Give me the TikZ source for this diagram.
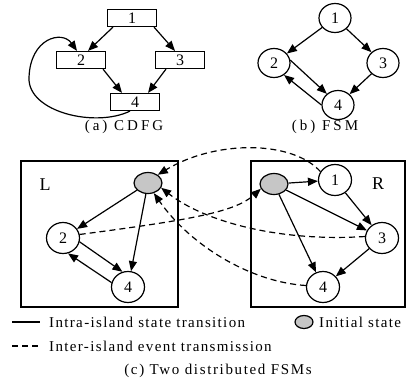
\documentclass[tikz,border=0pt]{standalone}
\usepackage{fontspec}
\setmainfont{Liberation Serif}
\newfontfamily\spacedfont[LetterSpace=9]{Liberation Serif}
\newfontfamily\capfont[LetterSpace=11]{Liberation Serif}
\newfontfamily\widefont[LetterSpace=20]{Liberation Serif}
\usetikzlibrary{arrows.meta,shapes.geometric}

\begin{document}
\begin{tikzpicture}[x=1pt,y=-1pt,
  lw/.style={line width=1.2pt},
  edge/.style={lw, -{Triangle[length=10pt,width=8pt]}},
  dedge/.style={edge, dash pattern=on 6pt off 4pt},
  blk/.style={draw, lw, rectangle, minimum width=49pt, minimum height=17pt,
              inner sep=0pt, font=\fontsize{16}{16}\selectfont},
  st/.style={draw, lw, ellipse, minimum width=32pt, minimum height=29pt,
             inner sep=0pt, font=\fontsize{16}{16}\selectfont},
  init/.style={draw, lw, ellipse, fill=gray!45, minimum width=28pt,
               minimum height=21pt, inner sep=0pt},
  island/.style={draw, lw},
  captxt/.style={font=\fontsize{15}{15}\selectfont\widefont},
  legtext/.style={font=\fontsize{15}{15}\selectfont\spacedfont, anchor=west, inner sep=0pt}]
\useasboundingbox (0,0) rectangle (409,388);

% ---------- (a) CDFG ----------
\node[blk] (a1) at (132,18) {1};
\node[blk] (a2) at (81,60) {2};
\node[blk] (a3) at (180,60) {3};
\node[blk] (a4) at (135,102) {4};
\draw[edge] ([xshift=-19pt]a1.south) -- ([xshift=7pt]a2.north);
\draw[edge] ([xshift=22pt]a1.south) -- ([xshift=-5pt]a3.north);
\draw[edge] ([xshift=22pt]a2.south) -- ([xshift=-13pt]a4.north);
\draw[edge] ([xshift=-14pt]a3.south) -- ([xshift=13pt]a4.north);
\draw[edge] ([xshift=-5pt]a4.south) .. controls (95,128) and (28,112) .. (29,78)
  .. controls (30,38) and (62,30) .. ([xshift=-4pt]a2.north);
\node[captxt] (capa) at (124,127) {(a) CDFG};

% ---------- (b) FSM ----------
\node[st] (b1) at (335,18) {1};
\node[st] (b2) at (274,63) {2};
\node[st] (b3) at (383,63) {3};
\node[st] (b4) at (338,105) {4};
\draw[edge] (b1) -- (b2);
\draw[edge] (b1) -- (b3);
\draw[edge] (b3) -- (b4);
\draw[edge] (b2.10) -- (b4.135);
\draw[edge] (b4.180) -- (b2.-50);
\node[captxt] (capb) at (325,127) {(b) FSM};

% ---------- (c) two distributed FSMs ----------
\node[island, minimum width=157pt, minimum height=146pt, inner sep=0pt] (isL) at (99.5,234) {};
\node[island, minimum width=154pt, minimum height=146pt, inner sep=0pt] (isR) at (328,234) {};
\node[font=\fontsize{18}{18}\selectfont] (labL) at (45,185) {L};
\node[font=\fontsize{18}{18}\selectfont] (labR) at (378,184) {R};

% island L
\node[init] (Li) at (148,183) {};
\node[st, minimum width=33pt, minimum height=31pt] (L2) at (63,238) {2};
\node[st, minimum width=33pt, minimum height=31pt] (L4) at (128,287) {4};
\draw[edge] (Li) -- (L2);
\draw[edge] (Li) -- (L4);
\draw[edge] (L2.-13) -- (L4.110);
\draw[edge] (L4.165) -- (L2.-72);

% island R
\node[init] (Ri) at (274,184) {};
\node[st, minimum width=33pt, minimum height=31pt] (R1) at (335,180) {1};
\node[st, minimum width=33pt, minimum height=31pt] (R3) at (382,238) {3};
\node[st, minimum width=33pt, minimum height=31pt] (R4) at (323,287) {4};
\draw[edge] (Ri) -- (R1);
\draw[edge] (Ri) -- (R3);
\draw[edge] (Ri) -- (R4);
\draw[edge] (R1) -- (R3);
\draw[edge] (R3) -- (R4);

% inter-island event transmissions
\draw[dedge] (R1.150) .. controls (292,140) and (215,140) .. (Li.40);
\draw[dedge] (L2.12) .. controls (190,220) and (235,212) .. (Ri.-160);
\draw[dedge] (R3.175) .. controls (280,242) and (205,222) .. (Li.-20);
\draw[dedge] (R4.175) .. controls (250,282) and (190,245) .. (Li.-60);

% legend
\coordinate (s1) at (12,322);
\coordinate (s2) at (40,322);
\draw[lw] (s1) -- (s2);
\node[legtext] (t1) at (49,322) {Intra-island state transition};
\coordinate (d1) at (12,346);
\coordinate (d2) at (40,346);
\draw[lw, dash pattern=on 6pt off 4pt] (d1) -- (d2);
\node[legtext] (t2) at (49,346) {Inter-island event transmission};
\node[init, minimum width=18pt, minimum height=13pt] (leginit) at (304,322) {};
\node[legtext] (t3) at (319,322) {Initial state};
\node[font=\fontsize{15}{15}\selectfont\capfont] (capc) at (218,371) {(c) Two distributed FSMs};
\end{tikzpicture}
\end{document}
